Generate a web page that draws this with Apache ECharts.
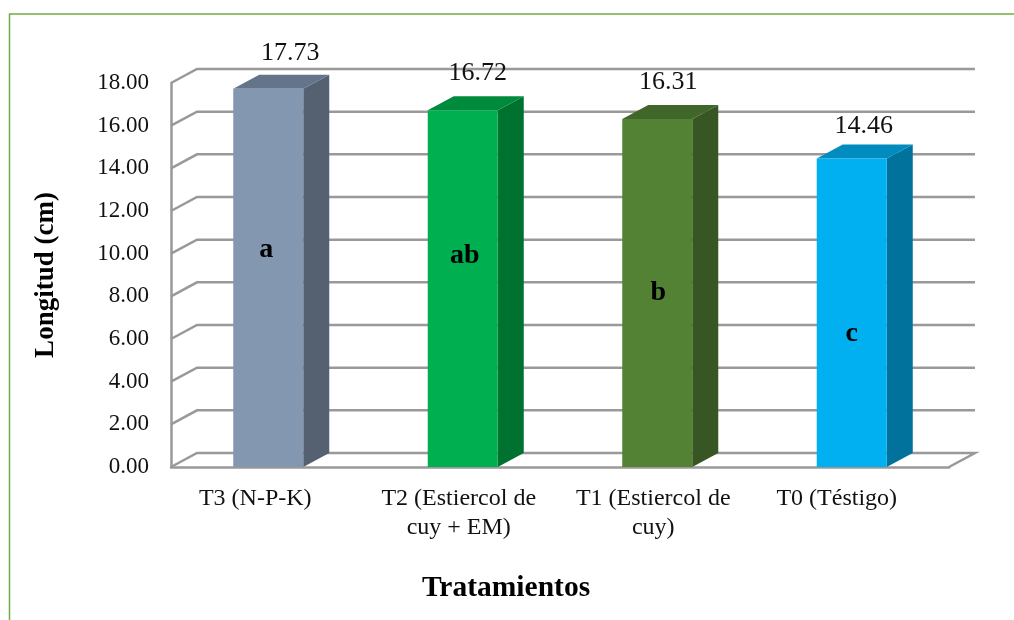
<!DOCTYPE html>
<html><head><meta charset="utf-8">
<style>html,body{margin:0;padding:0;background:#fff}#c{width:1014px;height:620px}</style>
<script src="https://cdn.jsdelivr.net/npm/echarts@6/dist/echarts.min.js"></script>
</head><body><div id="c"></div>
<script>
const categories = ['T3 (N-P-K)', 'T2 (Estiercol de\ncuy + EM)', 'T1 (Estiercol de\ncuy)', 'T0 (Téstigo)'];
const values = [17.73, 16.72, 16.31, 14.46];
const letters = ['a', 'ab', 'b', 'c'];
const letterHeights = [10.2, 9.9, 8.15, 6.25];
const yTicks = [0, 2, 4, 6, 8, 10, 12, 14, 16, 18];

const frontColors = ['#8497B0', '#00B050', '#548235', '#00B0F0'];
const sideColors = ['#556070', '#00722F', '#375623', '#00729C'];
const topColors = ['#64748A', '#008A3C', '#416629', '#008CBE'];
const valueLabelShift = [[22, -36], [15, -37], [11, -37], [12, -32]];
const letterShift = [-2, 2, 1, 0];
const categoryLabelShift = [13, 4, 4, 15];
const depthX = 26, depthY = 14, gridColor = '#999999', serif = '"Liberation Serif","Times New Roman",serif';

function wallItem(params, api) {
  const v = api.value(0), r = params.coordSys;
  const y = api.coord([0, v])[1], x0 = r.x, x1 = r.x + r.width;
  const pts = [[x0, y], [x0 + depthX, y - depthY], [x1 + depthX, y - depthY]];
  if (v === 0) pts.push([x1, y]);
  return {type: 'polyline', shape: {points: pts}, style: {stroke: gridColor, lineWidth: 2.5, fill: null}};
}
function barItem(params, api) {
  const i = api.value(0), v = api.value(1);
  const c = api.coord([i, v]), b = api.coord([i, 0]);
  const w = api.size([1, 0])[0] * 0.36, l = c[0] - w / 2, r = c[0] + w / 2;
  const poly = (points, fill) => ({type: 'polygon', shape: {points}, style: {fill}});
  return {type: 'group', children: [
    poly([[r, c[1]], [r + depthX, c[1] - depthY], [r + depthX, b[1] - depthY], [r, b[1]]], sideColors[i]),
    poly([[l, c[1]], [l + depthX, c[1] - depthY], [r + depthX, c[1] - depthY], [r, c[1]]], topColors[i]),
    poly([[l, c[1]], [r, c[1]], [r, b[1]], [l, b[1]]], frontColors[i]),
    {type: 'text', style: {x: c[0] + valueLabelShift[i][0], y: c[1] + valueLabelShift[i][1],
      text: v.toFixed(2), fill: '#111', font: '26px ' + serif, align: 'center', verticalAlign: 'middle'}},
    {type: 'text', style: {x: c[0] + letterShift[i], y: api.coord([i, letterHeights[i]])[1],
      text: letters[i], fill: '#000', font: 'bold 28px ' + serif, align: 'center', verticalAlign: 'middle'}}
  ]};
}
const rich = {};
categoryLabelShift.forEach((s, i) => {
  rich['c' + i] = {fontFamily: serif, fontSize: 24, lineHeight: 29, color: '#111', padding: [0, s * 2, 0, 0]};
});
const chart = echarts.init(document.getElementById('c'), null, {renderer: 'canvas'});
chart.setOption({
  animation: false,
  backgroundColor: '#fff',
  grid: {left: 171, right: 65, top: 83, bottom: 153},
  graphic: [{type: 'polyline', silent: true, shape: {points: [[9.5, 620], [9.5, 14], [1014, 14]]},
    style: {stroke: '#70AD47', lineWidth: 1.5, fill: null}}],
  xAxis: {
    type: 'category', data: categories,
    axisLine: {lineStyle: {color: gridColor, width: 2.5}}, axisTick: {show: false},
    axisLabel: {interval: 0, margin: 17,
      formatter: (val, i) => val.split('\n').map(t => `{c${i}|${t}}`).join('\n'), rich},
    name: 'Tratamientos', nameLocation: 'middle', nameGap: 106,
    nameTextStyle: {fontFamily: serif, fontSize: 29.5, fontWeight: 'bold', color: '#000', padding: [0, 108, 0, 0]}
  },
  yAxis: {
    type: 'value', min: 0, max: 18, interval: 2,
    axisLine: {show: true, lineStyle: {color: gridColor, width: 2.5}}, axisTick: {show: false}, splitLine: {show: false},
    axisLabel: {margin: 22, fontFamily: serif, fontSize: 23, color: '#111', formatter: v => v.toFixed(2)},
    name: 'Longitud (cm)', nameLocation: 'middle', nameGap: 111, nameRotate: 90,
    nameTextStyle: {fontFamily: serif, fontSize: 27, fontWeight: 'bold', color: '#000'}
  },
  series: [
    {type: 'custom', renderItem: wallItem, data: yTicks.map(v => [v]), encode: {y: 0}, silent: true, z: 1, clip: false},
    {type: 'custom', renderItem: barItem, data: values.map((v, i) => [i, v]), encode: {x: 0, y: 1}, silent: true, z: 2, clip: false}
  ]
});
</script></body></html>
